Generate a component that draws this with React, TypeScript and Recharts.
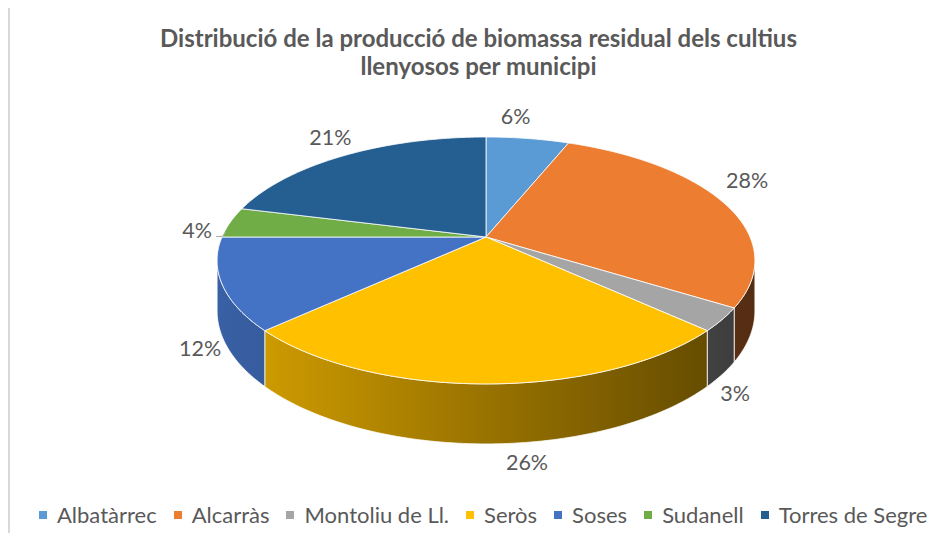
import React from 'react'
import { PieChart, Pie, Cell, Legend } from 'recharts'

const MUNICIPIS = ['Albatàrrec', 'Alcarràs', 'Montoliu de Ll.', 'Seròs', 'Soses', 'Sudanell', 'Torres de Segre']
const PRODUCCIO = [6, 28, 3, 26, 12, 4, 21]
const COLORS = ['#5b9bd5', '#ed7d31', '#a5a5a5', '#ffc000', '#4472c4', '#70ad47', '#255e91']
// where Excel put each percentage, relative to the rim point of the slice
const LABEL_OFFSET = [[-12, -22], [24, -22], [13, 18], [41, 18], [-22, 12], [-33, 8], [-15, -18]]

const data = MUNICIPIS.map((name, i) => ({ name, value: PRODUCCIO[i] }))

const FONT = 'Lato, "Open Sans", sans-serif'
const TEXT = '#595959'

// the disc seen in perspective
const RX = 264
const RY = 119
const PERSP = 0.19
const DEPTH = 48.6
const RAD = Math.PI / 180
const SIL = Math.asin(PERSP) / RAD

function proj(cx: number, cy: number, deg: number, drop = 0): [number, number] {
  const s = Math.sin(deg * RAD)
  const c = Math.cos(deg * RAD)
  const w = 1 + PERSP * s
  return [cx + (RX * c) / w, cy + (-RY * s + drop) / w]
}

function arcPts(cx: number, cy: number, a: number, b: number, drop = 0) {
  const n = Math.max(2, Math.ceil(Math.abs(a - b)))
  const pts: [number, number][] = []
  for (let i = 0; i <= n; i++) pts.push(proj(cx, cy, a + ((b - a) * i) / n, drop))
  return pts
}

const toD = (pts: [number, number][]) =>
  pts.map((p, i) => `${i ? 'L' : 'M'}${p[0].toFixed(2)},${p[1].toFixed(2)}`).join(' ')

function shade(hex: string, f: number) {
  const n = parseInt(hex.slice(1), 16)
  const r = Math.round(((n >> 16) & 255) * f)
  const g = Math.round(((n >> 8) & 255) * f)
  const b = Math.round((n & 255) * f)
  return `rgb(${r},${g},${b})`
}

function Slice3D(props: any) {
  const { cx, cy, startAngle, endAngle, midAngle, percent, index } = props
  const color = COLORS[index]
  const top = toD([[cx, cy], ...arcPts(cx, cy, startAngle, endAngle)]) + ' Z'

  // side wall, only on the front between the two silhouette points
  const hi = Math.min(startAngle, -SIL)
  const lo = Math.max(endAngle, -180 + SIL)
  let wall = ''
  if (hi > lo) {
    const upper = arcPts(cx, cy, hi, lo)
    const lower = arcPts(cx, cy, lo, hi, DEPTH)
    wall = toD([...upper, ...lower]) + ' Z'
  }

  const [rx, ry] = proj(cx, cy, midAngle, Math.sin(midAngle * RAD) < 0 ? DEPTH : 0)
  const [dx, dy] = LABEL_OFFSET[index]
  const lx = rx + dx
  const ly = ry + dy
  const gid = `wall-${index}`

  return (
    <g>
      <defs>
        <linearGradient id={gid} gradientUnits="userSpaceOnUse" x1={cx - RX} y1={0} x2={cx + RX} y2={0}>
          <stop offset="0" stopColor={shade(color, 0.84)} />
          <stop offset="1" stopColor={shade(color, 0.36)} />
        </linearGradient>
      </defs>
      {wall && <path d={wall} fill={`url(#${gid})`} stroke="rgba(255,255,255,0.75)" strokeWidth={1} />}
      <path d={top} fill={color} stroke="rgba(255,255,255,0.8)" strokeWidth={1} />
      {percent < 0.05 && dx < 0 && (
        <polyline
          points={`${lx + 19},${ly + 6} ${lx + 25},${ly + 6} ${lx + 29},${ly + 2}`}
          fill="none"
          stroke="#a6a6a6"
          strokeWidth={1}
        />
      )}
      <text
        x={lx}
        y={ly}
        textAnchor="middle"
        dominantBaseline="central"
        fill={TEXT}
        fontFamily={FONT}
        fontSize={21.5}
      >
        {`${Math.round(percent * 100)}%`}
      </text>
    </g>
  )
}

const renderLegend = () => (
  <div style={{ display: 'flex', alignItems: 'center', fontFamily: FONT, fontSize: 22, color: TEXT }}>
    {MUNICIPIS.map((m, i) => (
      <span key={m} style={{ display: 'flex', alignItems: 'center', marginRight: 17, whiteSpace: 'nowrap' }}>
        <span style={{ width: 8, height: 8, background: COLORS[i], marginRight: 10 }} />
        {m}
      </span>
    ))}
  </div>
)

export default function App() {
  return (
    <div
      style={{
        position: 'relative',
        marginTop: -2,
        width: 940,
        height: 540,
        borderTop: '2px solid #d9d9d9',
        borderLeft: '2px solid #d9d9d9',
        boxSizing: 'border-box',
      }}
    >
      <div style={{ position: 'absolute', left: -10, top: -8, width: 935, height: 533 }}>
        <div
          style={{
            position: 'absolute',
            left: 0,
            top: 24,
            width: 957,
            textAlign: 'center',
            fontFamily: FONT,
            fontWeight: 700,
            fontSize: 24,
            lineHeight: '28px',
            color: TEXT,
          }}
        >
          Distribució de la producció de biomassa residual dels cultius
          <br />
          llenyosos per municipi
        </div>
        <PieChart width={935} height={533} margin={{ top: 0, right: 0, bottom: 0, left: 0 }}>
          <Pie
            data={data}
            dataKey="value"
            nameKey="name"
            cx={486}
            cy={237}
            outerRadius={100}
            startAngle={90}
            endAngle={-270}
            fillOpacity={0}
            stroke="none"
            label={Slice3D}
            labelLine={false}
            isAnimationActive={false}
          >
            {data.map((d, i) => (
              <Cell key={d.name} fill={COLORS[i]} />
            ))}
          </Pie>
          <Legend content={renderLegend} wrapperStyle={{ position: 'absolute', left: 39, top: 501, width: 920 }} />
        </PieChart>
      </div>
    </div>
  )
}
